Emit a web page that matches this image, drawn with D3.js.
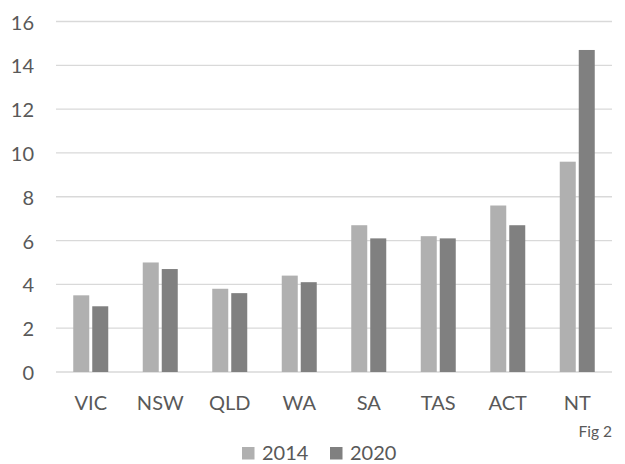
<!DOCTYPE html>
<html>
<head>
<meta charset="utf-8">
<script src="https://cdn.jsdelivr.net/npm/d3@7"></script>
<style>
  html, body { margin: 0; padding: 0; background: #fff; }
  svg text { font-family: Lato, "Open Sans", sans-serif; fill: #595959; }
</style>
</head>
<body>
<svg id="chart" width="625" height="464"></svg>
<script>
const categories = ["VIC", "NSW", "QLD", "WA", "SA", "TAS", "ACT", "NT"];
const series = ["2014", "2020"];
const values2014 = [3.5, 5.0, 3.8, 4.4, 6.7, 6.2, 7.6, 9.6];
const values2020 = [3.0, 4.7, 3.6, 4.1, 6.1, 6.1, 6.7, 14.7];
const yTicks = [0, 2, 4, 6, 8, 10, 12, 14, 16];
const colors = { "2014": "#b0b0b0", "2020": "#808080" };

const svg = d3.select("#chart");
const plot = { left: 56, right: 612, top: 21.5, bottom: 372 };

const y = d3.scaleLinear().domain([0, 16]).range([plot.bottom, plot.top]);
const x0 = d3.scaleBand().domain(categories).range([plot.left, plot.right]).padding(0);
const x1 = d3.scaleBand().domain(series).range([0, x0.bandwidth()])
  .paddingInner(0.158).paddingOuter(0.908);

// horizontal gridlines
svg.append("g").selectAll("line").data(yTicks).join("line")
  .attr("x1", plot.left).attr("x2", plot.right)
  .attr("y1", d => y(d)).attr("y2", d => y(d))
  .attr("stroke", "#d9d9d9").attr("stroke-width", 1.3);

// y tick labels
svg.append("g").selectAll("text").data(yTicks).join("text")
  .attr("x", 34).attr("y", d => y(d))
  .attr("text-anchor", "end").attr("dominant-baseline", "central")
  .attr("font-size", 20)
  .text(d => d);

// bars
const rows = categories.map((c, i) => ({ cat: c, vals: [
  { s: "2014", v: values2014[i] },
  { s: "2020", v: values2020[i] }
]}));

svg.append("g").selectAll("g").data(rows).join("g")
  .attr("transform", d => `translate(${x0(d.cat)},0)`)
  .selectAll("rect").data(d => d.vals).join("rect")
  .attr("x", d => x1(d.s))
  .attr("width", x1.bandwidth())
  .attr("y", d => y(d.v))
  .attr("height", d => y(0) - y(d.v))
  .attr("fill", d => colors[d.s]);

// x category labels
svg.append("g").selectAll("text").data(categories).join("text")
  .attr("x", d => x0(d) + x0.bandwidth() / 2)
  .attr("y", 410)
  .attr("text-anchor", "middle")
  .attr("font-size", 20)
  .text(d => d);

// figure note
svg.append("text")
  .attr("x", 612).attr("y", 437)
  .attr("text-anchor", "end")
  .attr("font-size", 15.5)
  .text("Fig 2");

// legend
const legendX = { "2014": 242, "2020": 330 };
const legend = svg.append("g").selectAll("g").data(series).join("g")
  .attr("transform", d => `translate(${legendX[d]},447)`);
legend.append("rect")
  .attr("width", 12.5).attr("height", 12.5)
  .attr("fill", d => colors[d]);
legend.append("text")
  .attr("x", 20).attr("y", 13)
  .attr("font-size", 20)
  .text(d => d);
</script>
</body>
</html>
